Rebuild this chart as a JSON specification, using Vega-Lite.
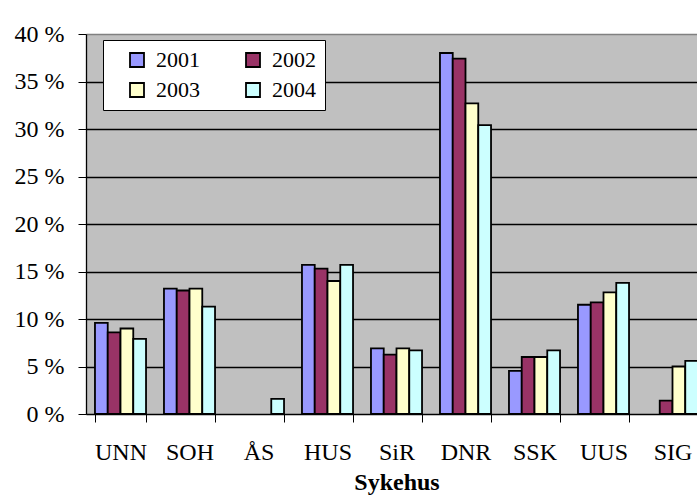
{
  "$schema": "https://vega.github.io/schema/vega-lite/v6.json",
  "autosize": "none",
  "width": 611,
  "height": 380,
  "padding": {"left": 86, "top": 34, "right": 0, "bottom": 84},
  "background": "white",
  "config": {
    "font": "Liberation Serif, Times New Roman, serif",
    "view": {"fill": "#C0C0C0", "stroke": null},
    "axis": {"labelFont": "Liberation Serif, Times New Roman, serif", "titleFont": "Liberation Serif, Times New Roman, serif", "labelColor": "black", "titleColor": "black", "domainColor": "black", "tickColor": "black"},
    "legend": {"labelFont": "Liberation Serif, Times New Roman, serif"}
  },
  "data": {
    "values": [
      {"sykehus": "UNN", "year": "2001", "value": 9.6},
      {"sykehus": "UNN", "year": "2002", "value": 8.6},
      {"sykehus": "UNN", "year": "2003", "value": 9.0},
      {"sykehus": "UNN", "year": "2004", "value": 7.9},
      {"sykehus": "SOH", "year": "2001", "value": 13.2},
      {"sykehus": "SOH", "year": "2002", "value": 13.0},
      {"sykehus": "SOH", "year": "2003", "value": 13.2},
      {"sykehus": "SOH", "year": "2004", "value": 11.3},
      {"sykehus": "ÅS", "year": "2004", "value": 1.6},
      {"sykehus": "HUS", "year": "2001", "value": 15.7},
      {"sykehus": "HUS", "year": "2002", "value": 15.3},
      {"sykehus": "HUS", "year": "2003", "value": 14.0},
      {"sykehus": "HUS", "year": "2004", "value": 15.7},
      {"sykehus": "SiR", "year": "2001", "value": 6.9},
      {"sykehus": "SiR", "year": "2002", "value": 6.25},
      {"sykehus": "SiR", "year": "2003", "value": 6.9},
      {"sykehus": "SiR", "year": "2004", "value": 6.7},
      {"sykehus": "DNR", "year": "2001", "value": 38.0},
      {"sykehus": "DNR", "year": "2002", "value": 37.4},
      {"sykehus": "DNR", "year": "2003", "value": 32.7},
      {"sykehus": "DNR", "year": "2004", "value": 30.4},
      {"sykehus": "SSK", "year": "2001", "value": 4.55},
      {"sykehus": "SSK", "year": "2002", "value": 6.0},
      {"sykehus": "SSK", "year": "2003", "value": 6.0},
      {"sykehus": "SSK", "year": "2004", "value": 6.7},
      {"sykehus": "UUS", "year": "2001", "value": 11.5},
      {"sykehus": "UUS", "year": "2002", "value": 11.75},
      {"sykehus": "UUS", "year": "2003", "value": 12.8},
      {"sykehus": "UUS", "year": "2004", "value": 13.8},
      {"sykehus": "SIG", "year": "2002", "value": 1.4},
      {"sykehus": "SIG", "year": "2003", "value": 5.0},
      {"sykehus": "SIG", "year": "2004", "value": 5.6}
    ]
  },
  "mark": {"type": "bar", "stroke": "black", "strokeWidth": 1.8, "clip": false},
  "encoding": {
    "x": {
      "field": "sykehus",
      "type": "nominal",
      "sort": ["UNN", "SOH", "ÅS", "HUS", "SiR", "DNR", "SSK", "UUS", "SIG"],
      "scale": {"range": [0, 621], "paddingInner": 0.26, "paddingOuter": 0.13},
      "axis": {
        "title": "Sykehus",
        "titleFont": "Liberation Serif, Times New Roman, serif",
        "titleFontSize": 24,
        "titleFontWeight": "bold",
        "titlePadding": 6,
        "labelFont": "Liberation Serif, Times New Roman, serif",
        "labelFontSize": 24,
        "labelAngle": 0,
        "labelPadding": 18,
        "tickBand": "extent",
        "tickSize": 8,
        "domain": true,
        "domainWidth": 1
      }
    },
    "xOffset": {"field": "year", "type": "nominal", "sort": ["2001", "2002", "2003", "2004"]},
    "y": {
      "field": "value",
      "type": "quantitative",
      "scale": {"domain": [0, 40], "nice": false},
      "axis": {
        "title": null,
        "values": [0, 5, 10, 15, 20, 25, 30, 35, 40],
        "labelExpr": "datum.value + ' %'",
        "labelFont": "Liberation Serif, Times New Roman, serif",
        "labelFontSize": 24,
        "labelPadding": 14,
        "tickSize": 8,
        "grid": true,
        "gridColor": {"condition": {"test": "datum.value === 40", "value": "#808080"}, "value": "black"},
        "gridWidth": 1.3,
        "domain": true,
        "domainWidth": 1.3
      }
    },
    "color": {
      "field": "year",
      "type": "nominal",
      "scale": {"domain": ["2001", "2002", "2003", "2004"], "range": ["#9999FF", "#993366", "#FFFFCC", "#CCFFFF"]},
      "legend": {
        "title": null,
        "orient": "none",
        "legendX": 17,
        "legendY": 6,
        "direction": "horizontal",
        "columns": 2,
        "fillColor": "white",
        "strokeColor": "black",
        "padding": 9,
        "symbolType": "square",
        "symbolSize": 196,
        "symbolStrokeColor": "black",
        "symbolStrokeWidth": 1.8,
        "symbolOffset": 14,
        "labelOffset": 8,
        "labelFontSize": 22,
        "labelFont": "Liberation Serif, Times New Roman, serif",
        "labelColor": "black",
        "columnPadding": 28,
        "rowPadding": 8
      }
    }
  }
}
